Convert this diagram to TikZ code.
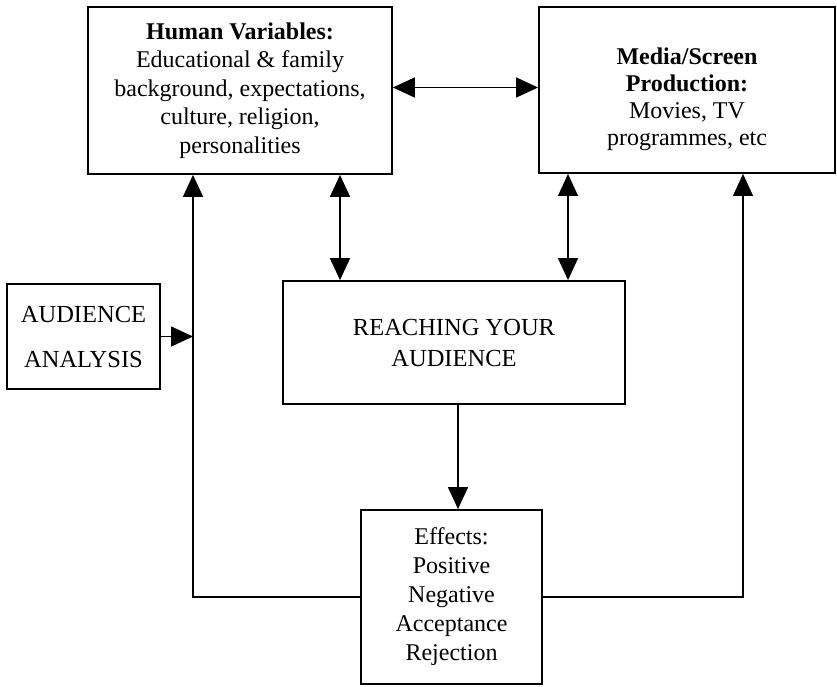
\documentclass[tikz,border=0pt]{standalone}
\usepackage{fontspec}
\setmainfont{Liberation Serif}
\usetikzlibrary{arrows.meta}
\begin{document}
\begin{tikzpicture}[x=1pt,y=-1pt,
  boxnode/.style={draw,line width=1.8pt,rectangle,align=center,inner sep=0pt},
  arr/.style={-{Triangle[length=22pt,width=20pt]},line width=1.2pt},
  dbl/.style={{Triangle[length=22pt,width=20pt]}-{Triangle[length=22pt,width=20pt]},line width=1.2pt}]
\useasboundingbox (0,0) rectangle (837,686);
\node[boxnode,minimum width=304pt,minimum height=167pt,font=\fontsize{24}{28.5}\selectfont] (HV) at (240,90.5)
  {\textbf{Human Variables:}\\Educational \& family\\background, expectations,\\culture, religion,\\personalities};
\node[boxnode,minimum width=296pt,minimum height=166pt] (MD) at (687,90) {};
\node[align=center,inner sep=0pt,font=\fontsize{24}{27}\selectfont] (MDtext) at (687,99)
  {\textbf{Media/Screen}\\\textbf{Production:}\\Movies, TV\\programmes, etc};
\node[boxnode,minimum width=153pt,minimum height=105pt,font=\fontsize{24.5}{45}\selectfont] (AA) at (83.5,336.5)
  {AUDIENCE\\ANALYSIS};
\node[boxnode,minimum width=342pt,minimum height=123pt,font=\fontsize{24.5}{31}\selectfont] (RA) at (454,342.5)
  {REACHING YOUR\\AUDIENCE};
\node[boxnode,minimum width=181pt,minimum height=174pt,font=\fontsize{24}{29}\selectfont] (EF) at (451.5,597)
  {Effects:\\Positive\\Negative\\Acceptance\\Rejection};
\coordinate (lx) at (193,0);
\coordinate (hx) at (340,0);
\coordinate (mx) at (568,0);
\coordinate (ex) at (458,0);
\coordinate (rx) at (743,0);
\draw[dbl,line width=1.5pt] ([yshift=3pt]HV.east) -- ([yshift=3pt]HV.east -| MD.west);
\draw[dbl,line width=1.8pt] (HV.south -| hx) -- (RA.north -| hx);
\draw[dbl] (MD.south -| mx) -- (RA.north -| mx);
\draw[arr] (RA.south -| ex) -- (EF.north -| ex);
\draw[arr] (EF.west) -| (HV.south -| lx);
\draw[arr] (EF.east) -| (MD.south -| rx);
\draw[arr,line width=1.5pt] (AA.east) -- (AA.east -| lx);
\end{tikzpicture}
\end{document}
